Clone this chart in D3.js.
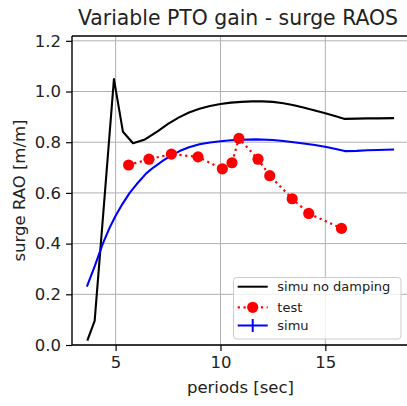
<!DOCTYPE html>
<html><head><meta charset="utf-8">
<script src="https://cdn.jsdelivr.net/npm/d3@7"></script>
<style>body{margin:0;background:#fff}svg{display:block}</style>
</head><body>
<script>
const noDampX = [3.65, 4.0, 4.45, 4.92, 5.35, 5.83, 6.4, 7.0, 7.5, 8.0, 8.5, 9.0, 9.5, 10.0, 10.5, 11.0, 11.5, 12.0, 12.5, 13.0, 13.5, 14.0, 14.5, 15.0, 15.5, 15.93, 16.5, 17.0, 17.5, 18.28];
const noDampY = [0.017, 0.095, 0.56, 1.049, 0.841, 0.796, 0.811, 0.843, 0.872, 0.897, 0.917, 0.932, 0.943, 0.951, 0.956, 0.959, 0.961, 0.961, 0.959, 0.954, 0.946, 0.936, 0.925, 0.914, 0.902, 0.892, 0.893, 0.894, 0.894, 0.895];
const simuX = [3.63, 4.0, 4.39, 4.7, 5.0, 5.33, 5.67, 6.0, 6.46, 6.8, 7.26, 7.6, 8.05, 8.5, 9.0, 9.5, 10.0, 10.5, 11.0, 11.7, 12.5, 13.0, 13.78, 14.5, 15.05, 15.5, 15.93, 16.5, 17.0, 17.5, 18.28];
const simuY = [0.23, 0.31, 0.40, 0.46, 0.51, 0.557, 0.60, 0.634, 0.677, 0.70, 0.727, 0.745, 0.765, 0.780, 0.792, 0.799, 0.804, 0.808, 0.810, 0.811, 0.809, 0.805, 0.797, 0.789, 0.781, 0.773, 0.765, 0.766, 0.768, 0.769, 0.771];
const testX = [5.62, 6.59, 7.66, 8.93, 10.09, 10.55, 10.88, 11.79, 12.35, 13.42, 14.21, 15.77];
const testY = [0.71, 0.733, 0.753, 0.742, 0.695, 0.719, 0.815, 0.733, 0.668, 0.577, 0.519, 0.46];
const xTicks = [5, 10, 15];
const yTicks = [0.0, 0.2, 0.4, 0.6, 0.8, 1.0, 1.2];
const seriesNames = ["simu no damping", "test", "simu"];

const W = 407, H = 406;
const L = 72, R = 409, T = 36, B = 345;
const svg = d3.select("body").append("svg").attr("width", W).attr("height", H)
  .style("font-family", "DejaVu Sans, sans-serif");

const x = d3.scaleLinear().domain([2.92, 18.99]).range([L, R]);
const y = d3.scaleLinear().domain([0, 1.219]).range([B, T]);

// grid
const g = svg.append("g");
g.selectAll("line.gx").data(xTicks).join("line")
  .attr("x1", d => x(d)).attr("x2", d => x(d)).attr("y1", T).attr("y2", B)
  .attr("stroke", "#b0b0b0").attr("stroke-width", 1);
g.selectAll("line.gy").data(yTicks).join("line")
  .attr("y1", d => y(d)).attr("y2", d => y(d)).attr("x1", L).attr("x2", R)
  .attr("stroke", "#b0b0b0").attr("stroke-width", 1);

const line = d3.line().x(d => x(d[0])).y(d => y(d[1]));
const nd = noDampX.map((v, i) => [v, noDampY[i]]);
const sm = simuX.map((v, i) => [v, simuY[i]]);
const ts = testX.map((v, i) => [v, testY[i]]);

svg.append("path").attr("d", line(nd)).attr("fill", "none").attr("stroke", "#000").attr("stroke-width", 2.1).attr("stroke-linejoin", "round");
svg.append("path").attr("d", line(sm)).attr("fill", "none").attr("stroke", "#0000ff").attr("stroke-width", 2.1).attr("stroke-linejoin", "round");
svg.append("path").attr("d", line(ts)).attr("fill", "none").attr("stroke", "#ff0000").attr("stroke-width", 2.2).attr("stroke-dasharray", "2.2,3.6");
svg.selectAll("circle.t").data(ts).join("circle")
  .attr("cx", d => x(d[0])).attr("cy", d => y(d[1])).attr("r", 5.6).attr("fill", "#ff0000");

// axes
const xa = svg.append("g").attr("transform", `translate(0,${B})`)
  .call(d3.axisBottom(x).tickValues(xTicks).tickFormat(d3.format("d")).tickSizeOuter(0).tickSize(6).tickPadding(5));
const ya = svg.append("g").attr("transform", `translate(${L},0)`)
  .call(d3.axisLeft(y).tickValues(yTicks).tickFormat(d3.format(".1f")).tickSizeOuter(0).tickSize(6).tickPadding(5));
[xa, ya].forEach(a => {
  a.select(".domain").remove();
  a.selectAll("text").attr("font-size", 16.5).attr("fill", "#222").attr("font-family", "DejaVu Sans, sans-serif");
  a.selectAll("line").attr("stroke", "#000").attr("stroke-width", 1.2);
});
// spines
svg.append("line").attr("x1", L).attr("x2", L).attr("y1", T).attr("y2", B).attr("stroke", "#000").attr("stroke-width", 1.4);
svg.append("line").attr("x1", L).attr("x2", R).attr("y1", B).attr("y2", B).attr("stroke", "#000").attr("stroke-width", 1.4);
svg.append("line").attr("x1", L).attr("x2", R).attr("y1", T).attr("y2", T).attr("stroke", "#000").attr("stroke-width", 1.4);

// labels
svg.append("text").attr("x", 238).attr("y", 25).attr("text-anchor", "middle")
  .attr("font-size", 20.4).attr("fill", "#222").text("Variable PTO gain - surge RAOS");
svg.append("text").attr("x", (L + R) / 2).attr("y", 393).attr("text-anchor", "middle")
  .attr("font-size", 16.5).attr("fill", "#222").text("periods [sec]");
svg.append("text").attr("transform", `translate(24.5,${(T + B) / 2}) rotate(-90)`).attr("text-anchor", "middle")
  .attr("font-size", 16.5).attr("fill", "#222").text("surge RAO [m/m]");

// legend
const lg = svg.append("g");
lg.append("rect").attr("x", 233.5).attr("y", 277.5).attr("width", 167.5).attr("height", 61.5).attr("rx", 3)
  .attr("fill", "#fff").attr("fill-opacity", 0.8).attr("stroke", "#cccccc").attr("stroke-width", 1);
const ly = [286.7, 307.3, 325.5];
const hx1 = 237.7, hx2 = 267.7, hm = (hx1 + hx2) / 2;
lg.append("line").attr("x1", hx1).attr("x2", hx2).attr("y1", ly[0]).attr("y2", ly[0]).attr("stroke", "#000").attr("stroke-width", 2);
lg.append("line").attr("x1", hx1).attr("x2", hx2).attr("y1", ly[1]).attr("y2", ly[1]).attr("stroke", "#ff0000").attr("stroke-width", 2.2).attr("stroke-dasharray", "2.2,3.6");
lg.append("circle").attr("cx", hm).attr("cy", ly[1]).attr("r", 5.6).attr("fill", "#ff0000");
lg.append("line").attr("x1", hx1).attr("x2", hx2).attr("y1", ly[2]).attr("y2", ly[2]).attr("stroke", "#0000ff").attr("stroke-width", 2);
lg.append("line").attr("x1", hm).attr("x2", hm).attr("y1", ly[2] - 6.5).attr("y2", ly[2] + 6.5).attr("stroke", "#0000ff").attr("stroke-width", 2);
lg.selectAll("text").data(seriesNames).join("text")
  .attr("x", 277.3).attr("y", (d, i) => ly[i] + 4.7).attr("font-size", 13).attr("fill", "#222").text(d => d);
</script>
</body></html>
